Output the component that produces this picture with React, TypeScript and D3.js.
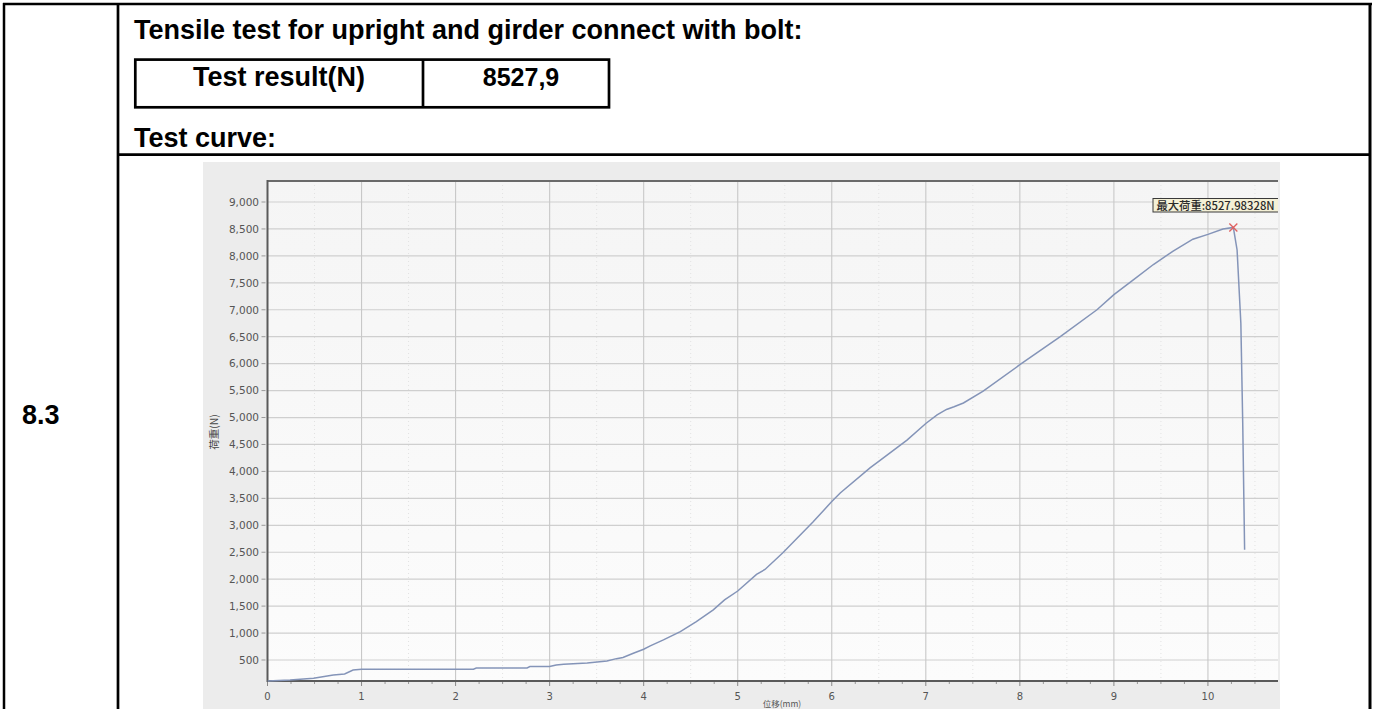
import React from "react";
import * as d3 from "d3";

// ---- data ----
const displacement = [
  0.0, 0.24, 0.49, 0.7, 0.82, 0.91, 1.0, 2.19, 2.22, 2.76, 2.79, 3.0, 3.07, 3.15, 3.4, 3.61, 3.71, 3.78,
  3.89, 4.0, 4.07, 4.21, 4.39, 4.56, 4.74, 4.86, 5.0, 5.2, 5.29, 5.48, 5.8, 6.0, 6.09, 6.41, 6.51, 6.8,
  7.0, 7.12, 7.22, 7.3, 7.4, 7.61, 8.0, 8.43, 8.82, 9.0, 9.21, 9.42, 9.63, 9.84, 10.0, 10.16, 10.27,
  10.31, 10.35, 10.37, 10.39,
];
const load = [
  112, 130, 160, 223, 241, 315, 328, 328, 352, 352, 377, 380, 408, 420, 445, 480, 525, 545,
  625, 700, 761, 872, 1027, 1212, 1429, 1615, 1780, 2090, 2180, 2490, 3060, 3440, 3600, 4070, 4200, 4580,
  4890, 5050, 5150, 5200, 5270, 5490, 5980, 6500, 7000, 7280, 7560, 7840, 8090, 8310, 8400, 8500, 8528,
  8110, 6750, 4895, 2545,
];
const peakX = 10.27;
const peakLoad = 8527.98328;
const yTicks = [500, 1000, 1500, 2000, 2500, 3000, 3500, 4000, 4500, 5000, 5500, 6000, 6500, 7000, 7500, 8000, 8500, 9000];
const xTicks = [0, 1, 2, 3, 4, 5, 6, 7, 8, 9, 10];
const xDomain: [number, number] = [0, 10.745];
const yDomain: [number, number] = [110, 9390];

const headerTitle = "Tensile test for upright and girder connect with bolt:";
const resultLabel = "Test result(N)";
const resultValue = "8527,9";
const curveLabel = "Test curve:";
const rowLabel = "8.3";
const yTitle = "荷重(N)";
const xTitle = "位移(mm)";
const peakText = "最大荷重:8527.98328N";

export default function App() {
  const W = 1376;
  const H = 709;
  const plot = { left: 267.5, right: 1278, top: 181, bottom: 681 };
  const x = d3.scaleLinear().domain(xDomain).range([plot.left, plot.right]);
  const y = d3.scaleLinear().domain(yDomain).range([plot.bottom, plot.top]);
  const pts: [number, number][] = displacement.map((d, i) => [d, load[i]]);
  const line = d3
    .line<[number, number]>()
    .x((d) => x(d[0]))
    .y((d) => y(d[1]));
  const minorX = d3.range(0, 10.75, 0.25).filter((v) => Math.abs(v - Math.round(v)) > 1e-6);
  const halfX = d3.range(0.5, 10.75, 1);
  const px = x(peakX);
  const py = y(peakLoad);
  const bold = { fontFamily: "'Liberation Sans', Arial, sans-serif", fontWeight: 700 as const, fill: "#000" };
  const axisFont = "'DejaVu Sans', Verdana, sans-serif";
  const cjk = "'Noto Sans CJK SC', 'DejaVu Sans', sans-serif";

  return (
    <svg
      width={W}
      height={H}
      style={{ position: "absolute", left: 0, top: 0, background: "#fff" }}
    >
      <rect x={0} y={0} width={W} height={H} fill="#fff" />
      {/* chart image background */}
      <rect x={203} y={162} width={1077} height={H - 162} fill="#ececec" />
      <defs>
        <linearGradient id="plotbg" x1="0" y1="0" x2="0" y2="1">
          <stop offset="0" stopColor="#f5f5f5" />
          <stop offset="1" stopColor="#fcfcfc" />
        </linearGradient>
        <clipPath id="plotclip">
          <rect x={plot.left} y={plot.top - 2} width={plot.right - plot.left} height={plot.bottom - plot.top + 4} />
        </clipPath>
      </defs>
      <rect
        x={plot.left}
        y={plot.top}
        width={plot.right - plot.left}
        height={plot.bottom - plot.top}
        fill="url(#plotbg)"
      />
      {/* minor faint vertical grid */}
      {halfX.map((v) => (
        <line
          key={"h" + v}
          x1={x(v)}
          x2={x(v)}
          y1={plot.top}
          y2={plot.bottom}
          stroke="#e2e2e2"
          strokeWidth={1}
          strokeDasharray="1,3"
        />
      ))}
      {/* horizontal grid */}
      {yTicks.map((v) => (
        <g key={"y" + v}>
          <line x1={plot.left} x2={plot.right} y1={y(v)} y2={y(v)} stroke="#cfcfcf" strokeWidth={1.2} />
          <line x1={plot.left - 6} x2={plot.left - 2} y1={y(v)} y2={y(v)} stroke="#9a9a9a" strokeWidth={1} />
          <text
            x={plot.left - 8.5}
            y={y(v) + 3.8}
            textAnchor="end"
            fontSize={10.5}
            fontFamily={axisFont}
            fill="#555"
          >
            {d3.format(",")(v)}
          </text>
        </g>
      ))}
      {/* vertical grid */}
      {xTicks.map((v) => (
        <g key={"x" + v}>
          {v > 0 && (
            <line x1={x(v)} x2={x(v)} y1={plot.top} y2={plot.bottom} stroke="#c8c8c8" strokeWidth={1.1} />
          )}
          <line x1={x(v)} x2={x(v)} y1={plot.bottom} y2={plot.bottom + 5} stroke="#888" strokeWidth={1} />
          <text x={x(v)} y={700} textAnchor="middle" fontSize={10} fontFamily={axisFont} fill="#555">
            {v}
          </text>
        </g>
      ))}
      {minorX.map((v) => (
        <line
          key={"m" + v}
          x1={x(v)}
          x2={x(v)}
          y1={plot.bottom}
          y2={plot.bottom + 3}
          stroke="#999"
          strokeWidth={1}
        />
      ))}
      {/* frame */}
      <line x1={plot.left} x2={plot.right} y1={plot.top} y2={plot.top} stroke="#6a6a6a" strokeWidth={2} />
      <line x1={plot.left} x2={plot.left} y1={plot.top - 1} y2={plot.bottom + 1} stroke="#5a5a5a" strokeWidth={2} />
      <line x1={plot.left} x2={plot.right} y1={plot.bottom} y2={plot.bottom} stroke="#5a5a5a" strokeWidth={2} />
      {/* curve */}
      <g clipPath="url(#plotclip)">
        <path d={line(pts) || ""} fill="none" stroke="#8494b8" strokeWidth={1.5} />
        {/* peak marker */}
        <line x1={px - 4} x2={px + 4} y1={py - 4} y2={py + 4} stroke="#e0605f" strokeWidth={1.3} />
        <line x1={px - 4} x2={px + 4} y1={py + 4} y2={py - 4} stroke="#e0605f" strokeWidth={1.3} />
        {/* annotation */}
        <rect x={1153} y={198.5} width={140} height={13.5} fill="#f4f0d6" stroke="#3a3a3a" strokeWidth={1} />
        <text x={1156.5} y={209.5} fontSize={11.3} fontWeight={500} fontFamily={cjk} fill="#2a2a2a">
          {peakText}
        </text>
      </g>
      {/* axis titles */}
      <text
        transform={`translate(218, ${432}) rotate(-90)`}
        textAnchor="middle"
        fontSize={10.5}
        fontFamily={cjk}
        fill="#444"
      >
        {yTitle}
      </text>
      <text x={782} y={707} textAnchor="middle" fontSize={8.5} fontFamily={cjk} fill="#555">
        {xTitle}
      </text>

      {/* document table */}
      <g stroke="#000" fill="none">
        <line x1={4} x2={4} y1={3} y2={H} strokeWidth={2.5} />
        <line x1={3} x2={1372} y1={4} y2={4} strokeWidth={2.5} />
        <line x1={1370} x2={1370} y1={3} y2={H} strokeWidth={3} />
        <line x1={118} x2={118} y1={3} y2={H} strokeWidth={2.7} />
        <line x1={118} x2={1371} y1={154.7} y2={154.7} strokeWidth={2.7} />
        <rect x={135.3} y={59.6} width={473.7} height={47.7} strokeWidth={2.7} />
        <line x1={423} x2={423} y1={59.6} y2={107.3} strokeWidth={2.7} />
      </g>
      <text x={134} y={39} fontSize={27} {...bold}>
        {headerTitle}
      </text>
      <text x={279} y={86} fontSize={27} textAnchor="middle" {...bold}>
        {resultLabel}
      </text>
      <text x={521} y={86} fontSize={25} textAnchor="middle" {...bold}>
        {resultValue}
      </text>
      <text x={134} y={147} fontSize={27} {...bold}>
        {curveLabel}
      </text>
      <text x={22} y={424} fontSize={27} {...bold}>
        {rowLabel}
      </text>
    </svg>
  );
}
